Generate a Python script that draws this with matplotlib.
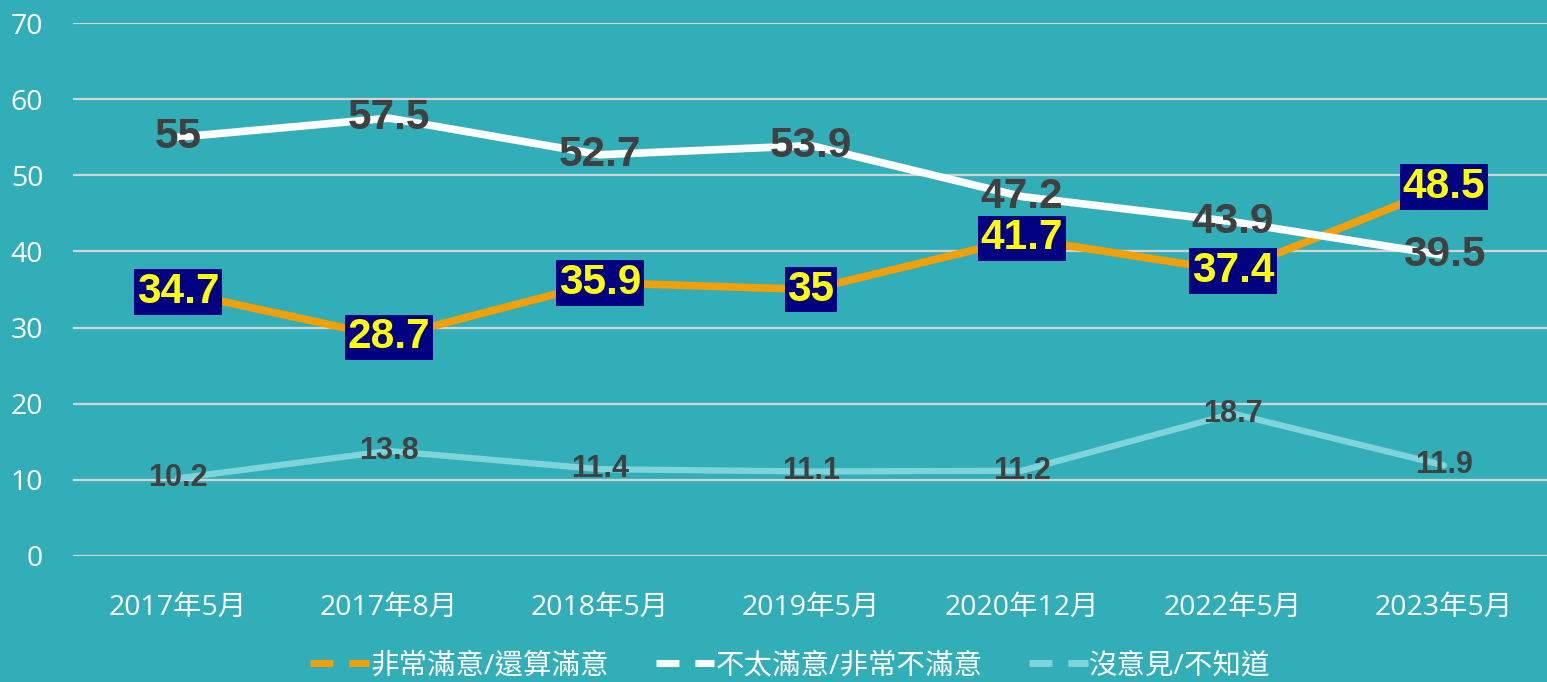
import matplotlib.pyplot as plt
import numpy as np

# 資料
categories = ['2017年5月', '2017年8月', '2018年5月', '2019年5月', '2020年12月', '2022年5月', '2023年5月']
satisfied = [34.7, 28.7, 35.9, 35, 41.7, 37.4, 48.5]
unsatisfied = [55, 57.5, 52.7, 53.9, 47.2, 43.9, 39.5]
no_opinion = [10.2, 13.8, 11.4, 11.1, 11.2, 18.7, 11.9]
series_names = ['非常滿意/還算滿意', '不太滿意/非常不滿意', '沒意見/不知道']

bg = '#31AEB8'
c_orange = '#F2A007'
c_white = '#FFFFFF'
c_light = '#7FD4DC'

plt.rcParams['font.family'] = ['Open Sans', 'Noto Sans CJK TC', 'DejaVu Sans']

fig = plt.figure(figsize=(15.47, 6.82), dpi=100, facecolor=bg)
ax = fig.add_axes([72.5 / 1547, 1 - 556 / 682, 1477 / 1547, (556 - 23) / 682])
ax.set_facecolor(bg)

x = np.arange(len(categories))
ax.plot(x, satisfied, color=c_orange, lw=5.5, solid_capstyle='round', zorder=3)
ax.plot(x, unsatisfied, color=c_white, lw=5.5, solid_capstyle='round', zorder=4)
ax.plot(x, no_opinion, color=c_light, lw=4.5, solid_capstyle='round', zorder=3)

lab_font = ['Liberation Sans', 'DejaVu Sans']
for xi, v in zip(x, satisfied):
    ax.text(xi, v, f'{v:g}', ha='center', va='center', fontsize=30.5, fontweight='bold',
            family=lab_font, color='#FFFF00', zorder=6,
            bbox=dict(boxstyle='square,pad=0.07', fc='#000080', ec='none'))
for xi, v in zip(x, unsatisfied):
    ax.text(xi, v, f'{v:g}', ha='center', va='center', fontsize=30.5, fontweight='bold',
            family=lab_font, color='#404040', zorder=6)
for xi, v in zip(x, no_opinion):
    ax.text(xi, v, f'{v:g}', ha='center', va='center', fontsize=22, fontweight='bold',
            family=lab_font, color='#404040', zorder=6)

ax.set_xlim(-0.5, 6.5)
ax.set_ylim(0, 70)
ax.set_yticks(range(0, 71, 10))
ax.yaxis.grid(True, color='#D4D4D4', lw=1.6)
ax.set_axisbelow(True)
ax.set_xticks(x)
ax.set_xticklabels(categories)
ax.tick_params(axis='both', length=0, colors='white', labelsize=20.5)
ax.tick_params(axis='x', pad=27)
ax.tick_params(axis='y', pad=21)
for s in ax.spines.values():
    s.set_visible(False)

handles = [
    plt.Line2D([], [], color=c, lw=5, ls=(0, (3.3, 2.3)))
    for c in (c_orange, c_white, c_light)
]
fig.legend(handles, series_names, loc='lower center', bbox_to_anchor=(0.511, -0.035),
           ncol=3, frameon=False, fontsize=20.5, labelcolor='white', handlelength=2.05,
           handletextpad=0.05, columnspacing=1.65)

fig.savefig('out.png', dpi=100, facecolor=bg)
